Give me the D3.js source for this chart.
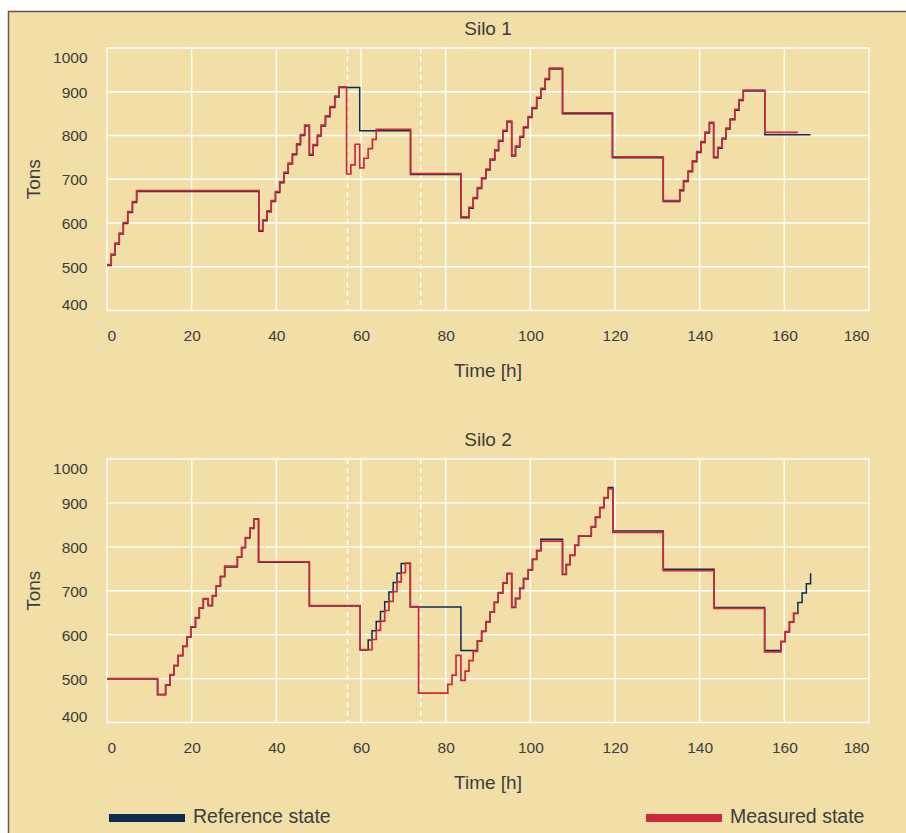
<!DOCTYPE html>
<html>
<head>
<meta charset="utf-8">
<script src="https://cdn.jsdelivr.net/npm/d3@7"></script>
<style>
  html, body { margin: 0; padding: 0; background: #ffffff; }
  svg { display: block; }
  text { font-family: "Liberation Sans", Arial, sans-serif; fill: #3e3d39; }
</style>
</head>
<body>
<svg id="chart" width="906" height="833"></svg>
<script>
// ---------------- data ----------------
const xTicks = [0, 20, 40, 60, 80, 100, 120, 140, 160, 180];
const yTicks = [400, 500, 600, 700, 800, 900, 1000];
const markerTimes = [56.8, 74.1];
const panelTitles = ["Silo 1", "Silo 2"];
const seriesNames = ["Reference state", "Measured state"];

// [time h, tons] step points
const silo1Measured = [[0,505],[1,529],[1.9,554],[2.9,577],[3.85,601],[4.9,626],[6,649],[7,674],[35.9,583],[36.8,607],[37.8,628],[38.8,651],[39.8,672],[40.8,694],[41.8,716],[42.8,737],[43.8,758],[44.8,781],[45.7,802],[46.7,824],[47.8,757],[48.7,779],[49.7,801],[50.6,824],[51.6,845],[52.7,866],[53.8,890],[54.8,911],[56.6,712],[57.6,733],[58.6,780],[59.7,726],[60.7,748],[61.7,770],[62.7,791],[63.6,814],[71.7,713],[83.6,614],[85.5,636],[86.5,658],[87.5,681],[88.5,703],[89.5,723],[90.5,746],[91.6,767],[92.5,789],[93.5,812],[94.5,833],[95.6,755],[96.5,776],[97.5,798],[98.4,820],[99.5,843],[100.4,864],[101.5,887],[102.5,908],[103.5,930],[104.5,954],[107.6,852],[119.4,751],[131.4,651],[135.3,676],[136.2,697],[137.3,719],[138.3,742],[139.3,763],[140.3,786],[141.3,808],[142.3,830],[143.3,751],[144.3,773],[145.3,794],[146.2,817],[147.2,838],[148.3,860],[149.3,882],[150.3,904],[155.4,807],[163.2,807]];

const silo1Reference = [[0,503],[1,527],[1.9,552],[2.9,575],[3.85,599],[4.9,624],[6,647],[7,672],[35.9,581],[36.8,605],[37.8,626],[38.8,649],[39.8,670],[40.8,692],[41.8,714],[42.8,735],[43.8,756],[44.8,779],[45.7,800],[46.7,822],[47.8,755],[48.7,777],[49.7,799],[50.6,822],[51.6,843],[52.7,864],[53.8,888],[54.8,910],[59.7,811],[71.7,711],[83.6,612],[85.5,634],[86.5,656],[87.5,679],[88.5,701],[89.5,721],[90.5,744],[91.6,765],[92.5,787],[93.5,810],[94.5,831],[95.6,753],[96.5,774],[97.5,796],[98.4,818],[99.5,841],[100.4,862],[101.5,885],[102.5,906],[103.5,928],[104.5,952],[107.6,850],[119.4,749],[131.4,649],[135.3,674],[136.2,695],[137.3,717],[138.3,740],[139.3,761],[140.3,784],[141.3,806],[142.3,828],[143.3,749],[144.3,771],[145.3,792],[146.2,815],[147.2,836],[148.3,858],[149.3,880],[150.3,902],[155.4,802],[166.2,802]];

const silo2Measured = [[0,500],[11.95,464],[13.85,486],[14.9,509],[15.8,530],[16.8,553],[17.9,574],[18.9,595],[19.8,618],[20.9,639],[21.8,661],[22.75,682],[23.9,667],[24.9,689],[25.8,711],[26.8,733],[27.8,756],[30.8,777],[31.8,799],[32.7,821],[33.8,843],[34.7,864],[35.8,766],[47.8,666],[59.8,566],[62.6,589],[63.6,610],[64.6,631],[65.6,655],[66.6,676],[67.6,698],[68.5,720],[69.5,741],[70.5,763],[71.65,664],[73.6,467],[80.5,487],[81.5,508],[82.45,553],[83.6,496],[84.6,517],[85.5,541],[86.5,562],[87.5,586],[88.5,608],[89.5,630],[90.5,652],[91.5,674],[92.4,696],[93.5,718],[94.5,739],[95.6,663],[96.5,683],[97.5,706],[98.4,728],[99.5,748],[100.5,772],[101.5,792],[102.5,813],[107.6,738],[108.5,760],[109.4,781],[110.5,804],[111.4,825],[114.4,846],[115.4,868],[116.4,890],[117.4,912],[118.4,932],[119.5,833],[131.4,746],[143.4,660],[155.35,561],[159.2,585],[160.2,607],[161.2,629],[162.2,649],[163.4,649]];

const silo2Reference = [[0,499],[11.95,463],[13.85,485],[14.9,508],[15.8,529],[16.8,552],[17.9,573],[18.9,594],[19.8,617],[20.9,638],[21.8,660],[22.75,681],[23.9,666],[24.9,688],[25.8,710],[26.8,732],[27.8,754],[30.8,776],[31.8,798],[32.7,820],[33.8,842],[34.7,863],[35.8,765],[47.8,665],[59.8,565],[61.7,588],[62.6,609],[63.6,630],[64.6,653],[65.6,675],[66.6,697],[67.6,719],[68.5,740],[69.5,762],[71.65,663],[83.6,564],[87.5,585],[88.5,607],[89.5,629],[90.5,651],[91.5,673],[92.4,695],[93.5,717],[94.5,739],[95.6,662],[96.5,682],[97.5,705],[98.4,727],[99.5,747],[100.5,771],[101.5,791],[102.5,817],[107.6,737],[108.5,759],[109.4,780],[110.5,803],[111.4,824],[114.4,845],[115.4,867],[116.4,889],[117.4,911],[118.4,935],[119.5,836],[131.4,749],[143.4,662],[155.35,564],[159.2,584],[160.2,606],[161.2,628],[162.2,648],[163.2,673],[164.2,695],[165.2,716],[166.2,740]];

// ---------------- layout ----------------
const colors = { bg: "#f2dea7", ref: "#0c2c52", meas: "#cb2a3b", grid: "#ffffff", frame: "#5a5a56" };
const plotLeft = 107, plotRight = 869;
const panels = [
  { title: panelTitles[0], top: 48, bottom: 310.5, ref: silo1Reference, meas: silo1Measured },
  { title: panelTitles[1], top: 459, bottom: 722.5, ref: silo2Reference, meas: silo2Measured }
];

const svg = d3.select("#chart");
svg.append("rect").attr("x", 8.5).attr("y", 11.5).attr("width", 900).attr("height", 840)
  .attr("fill", colors.bg).attr("stroke", colors.frame).attr("stroke-width", 1.5);

const x = d3.scaleLinear().domain([0, 180]).range([plotLeft, plotRight]);
const fmt = d3.format("d");

panels.forEach(p => {
  const y = d3.scaleLinear().domain([400, 1000]).range([p.bottom, p.top]);
  const g = svg.append("g");

  // grid
  g.selectAll("line.hg").data(yTicks).join("line")
    .attr("x1", plotLeft).attr("x2", plotRight)
    .attr("y1", d => y(d)).attr("y2", d => y(d))
    .attr("stroke", colors.grid).attr("stroke-width", 1.4);
  g.selectAll("line.vg").data(xTicks).join("line")
    .attr("x1", d => x(d)).attr("x2", d => x(d))
    .attr("y1", p.top).attr("y2", p.bottom)
    .attr("stroke", colors.grid).attr("stroke-width", 1.4);
  g.selectAll("line.mk").data(markerTimes).join("line")
    .attr("x1", d => x(d)).attr("x2", d => x(d))
    .attr("y1", p.top).attr("y2", p.bottom)
    .attr("stroke", colors.grid).attr("stroke-width", 1.4)
    .attr("stroke-dasharray", "5,4");

  // axes via d3 axis generators (text only)
  const xAxis = d3.axisBottom(x).tickValues(xTicks).tickFormat(fmt).tickSize(0).tickPadding(0);
  const xg = g.append("g").attr("transform", `translate(0,${p.bottom})`).call(xAxis);
  xg.select(".domain").remove();
  xg.selectAll("text")
    .attr("dy", null).attr("y", 30.5)
    .style("font-size", "15.5px").style("font-family", "Liberation Sans, Arial, sans-serif")
    .attr("fill", "#3e3d39")
    .attr("text-anchor", (d, i) => i === 0 ? "start" : (i === xTicks.length - 1 ? "end" : "middle"));

  const yAxis = d3.axisLeft(y).tickValues(yTicks).tickFormat(fmt).tickSize(0).tickPadding(19.5);
  const yg = g.append("g").attr("transform", `translate(${plotLeft},0)`).call(yAxis);
  yg.select(".domain").remove();
  yg.selectAll("text")
    .style("font-size", "15.5px").style("font-family", "Liberation Sans, Arial, sans-serif")
    .attr("fill", "#3e3d39")
    .attr("dy", d => d === 1000 ? "0.95em" : (d === 400 ? "-0.05em" : "0.35em"));

  // lines
  const line = d3.line().x(d => x(d[0])).y(d => y(d[1])).curve(d3.curveStepAfter);
  g.append("path").datum(p.ref).attr("d", line)
    .attr("fill", "none").attr("stroke", colors.ref).attr("stroke-width", 1.5);
  g.append("path").datum(p.meas).attr("d", line)
    .attr("fill", "none").attr("stroke", colors.meas).attr("stroke-width", 1.7);

  // titles
  g.append("text").attr("x", (plotLeft + plotRight) / 2).attr("y", p.top - 13)
    .attr("text-anchor", "middle").style("font-size", "19px").text(p.title);
  g.append("text").attr("x", (plotLeft + plotRight) / 2).attr("y", p.bottom + 66)
    .attr("text-anchor", "middle").style("font-size", "19px").text("Time [h]");
  g.append("text")
    .attr("transform", `translate(40,${(p.top + p.bottom) / 2}) rotate(-90)`)
    .attr("text-anchor", "middle").style("font-size", "19px").text("Tons");
});

// legend
const legend = [
  { name: seriesNames[0], color: colors.ref, x0: 109 },
  { name: seriesNames[1], color: colors.meas, x0: 646 }
];
const lg = svg.append("g");
legend.forEach(l => {
  lg.append("rect").attr("x", l.x0).attr("y", 814).attr("width", 76).attr("height", 8).attr("fill", l.color);
  lg.append("text").attr("x", l.x0 + 84).attr("y", 822.5).style("font-size", "19.5px").text(l.name);
});
</script>
</body>
</html>
